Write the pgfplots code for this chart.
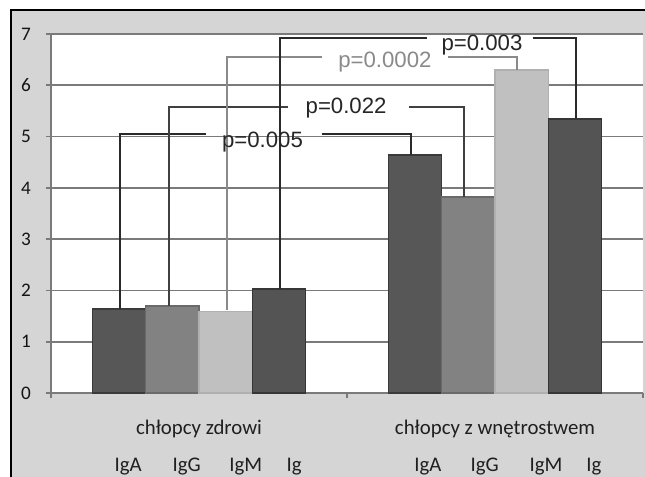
\documentclass[border=0pt]{standalone}
\usepackage{pgfplots}
\pgfplotsset{compat=1.18}
\usepackage{fontspec}
\setmainfont{Liberation Sans}
\newfontfamily\carlito{Carlito}
\definecolor{bggray}{HTML}{D5D5D5}
\definecolor{gridc}{HTML}{7A7A7A}
\definecolor{cA}{HTML}{575757}
\definecolor{cAd}{HTML}{3A3A3A}
\definecolor{cG}{HTML}{828282}
\definecolor{cGd}{HTML}{6A6A6A}
\definecolor{cM}{HTML}{C0C0C0}
\definecolor{cMd}{HTML}{B0B0B0}
\definecolor{cI}{HTML}{545454}
\definecolor{cId}{HTML}{363636}
\definecolor{ldark}{HTML}{2A2A2A}
\definecolor{lmid}{HTML}{404040}
\definecolor{llight}{HTML}{8A8A8A}
\tikzset{cat/.style={font=\carlito\fontsize{10.4}{12}\selectfont, text=black!88}}
\begin{document}
\begin{tikzpicture}
\useasboundingbox (0pt,0pt) rectangle (322.5pt,238.5pt);
\fill[bggray] (5.5pt,0pt) rectangle (322.5pt,233.5pt);
\draw[black, line width=0.6pt] (5.5pt,0pt) -- (5.5pt,233.5pt) -- (322.5pt,233.5pt);
\begin{axis}[
  at={(25.5pt,42pt)}, anchor=south west,
  scale only axis, width=296pt, height=179.5pt,
  xmin=-0.5, xmax=1.5, ymin=0, ymax=7,
  ytick={0,1,2,3,4,5,6,7},
  xtick={-0.5,0.5,1.5}, xticklabels={},
  axis x line*=bottom, axis y line*=left,
  axis line style={draw=gridc, line width=0.85pt, -},
  ymajorgrids, grid style={draw=gridc, line width=0.8pt},
  tick align=outside, major tick length=2.5pt,
  tick style={draw=gridc, line width=0.8pt},
  axis background/.style={fill=white},
  clip=false,
  /pgf/number format/assume math mode=true,
  yticklabel style={font=\carlito\fontsize{9.6}{10}\selectfont, text=black!92, xshift=-4pt},
]
% bars
\addplot[ybar, bar width=0.18, bar shift=-0.27, fill=cA, draw=cAd, line width=0.7pt] coordinates {(0,1.64) (1,4.64)};
\addplot[ybar, bar width=0.18, bar shift=-0.09, fill=cG, draw=cGd, line width=0.7pt] coordinates {(0,1.70) (1,3.82)};
\addplot[ybar, bar width=0.18, bar shift=0.09, fill=cM, draw=cMd, line width=0.7pt] coordinates {(0,1.59) (1,6.30)};
\addplot[ybar, bar width=0.18, bar shift=0.27, fill=cI, draw=cId, line width=0.7pt] coordinates {(0,2.03) (1,5.34)};
% bracket p=0.005
\addplot[draw=ldark, line width=1pt] coordinates {(-0.266,1.64) (-0.266,5.05) (0.024,5.05)};
\addplot[draw=ldark, line width=1pt] coordinates {(0.414,5.05) (0.715,5.05) (0.715,4.64)};
% bracket p=0.022
\addplot[draw=lmid, line width=1pt] coordinates {(-0.100,1.70) (-0.100,5.575) (0.302,5.575)};
\addplot[draw=lmid, line width=1pt] coordinates {(0.711,5.575) (0.894,5.575) (0.894,3.82)};
% bracket p=0.0002
\addplot[draw=llight, line width=1pt] coordinates {(0.093,1.62) (0.093,6.55) (0.417,6.55)};
\addplot[draw=llight, line width=1pt] coordinates {(0.840,6.55) (1.076,6.55) (1.076,6.30)};
% bracket p=0.003
\addplot[draw=ldark, line width=1pt] coordinates {(0.272,2.03) (0.272,6.92) (0.769,6.92)};
\addplot[draw=ldark, line width=1pt] coordinates {(1.127,6.92) (1.275,6.92) (1.275,5.34)};
% p-values
\node[anchor=base, font=\fontsize{11.1}{13}\selectfont, text=black!85] at (axis cs:0.2145,4.795) {p=0.005};
\node[anchor=base, font=\fontsize{11.1}{13}\selectfont, text=black!85] at (axis cs:0.497,5.458) {p=0.022};
\node[anchor=base, font=\fontsize{11.1}{13}\selectfont, text=llight] at (axis cs:0.628,6.355) {p=0.0002};
\node[anchor=base, font=\fontsize{11.1}{13}\selectfont, text=black!85] at (axis cs:0.956,6.686) {p=0.003};
% category labels
\node[anchor=base, cat] at (axis cs:0,-0.80) {chłopcy zdrowi};
\node[anchor=base, cat] at (axis cs:1,-0.80) {chłopcy z wnętrostwem};
\node[anchor=base west, cat] at (axis cs:-0.309,-1.535) {IgA};
\node[anchor=base west, cat] at (axis cs:-0.113,-1.535) {IgG};
\node[anchor=base west, cat] at (axis cs:0.079,-1.535) {IgM};
\node[anchor=base west, cat] at (axis cs:0.272,-1.535) {Ig};
\node[anchor=base west, cat] at (axis cs:0.704,-1.535) {IgA};
\node[anchor=base west, cat] at (axis cs:0.894,-1.535) {IgG};
\node[anchor=base west, cat] at (axis cs:1.093,-1.535) {IgM};
\node[anchor=base west, cat] at (axis cs:1.285,-1.535) {Ig};
\end{axis}
\end{tikzpicture}
\end{document}
